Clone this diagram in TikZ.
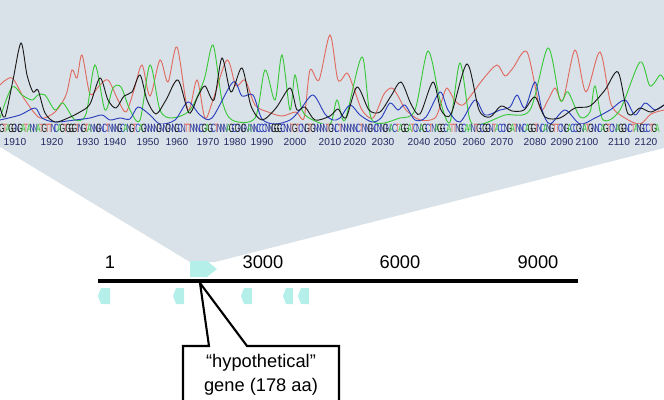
\documentclass[tikz,border=0pt]{standalone}
\usepackage{fontspec}
\setmainfont{Liberation Sans}
\usetikzlibrary{positioning}

\definecolor{panel}{RGB}{217,226,232}
\definecolor{gen}{RGB}{180,239,233}
\definecolor{colG}{RGB}{25,25,25}
\definecolor{colA}{RGB}{55,200,55}
\definecolor{colT}{RGB}{225,105,95}
\definecolor{colC}{RGB}{40,60,190}
\definecolor{colN}{RGB}{45,55,150}
\definecolor{numero}{RGB}{35,42,100}

\begin{document}
\begin{tikzpicture}[
x=0.025cm, y=-0.025cm,
every node/.style={inner sep=0pt},
escala/.style={font=\fontsize{13}{15}\selectfont, anchor=base},
letra/.style={font=\fontsize{8.5}{9}\selectfont},
num/.style={font=\fontsize{7.2}{8}\selectfont, text=numero},
traza/.style={line width=0.65pt},
gene/.style={fill=gen, draw=none},
eje/.style={line width=2.4pt},
nota/.style={align=center, font=\fontsize{13}{17}\selectfont},
borde/.style={draw=black, fill=white, line width=1.5pt}
]
\useasboundingbox (0,0) rectangle (664,400);

% CROMATOGRAMA
\fill[panel] (0,0) -- (664,0) -- (664,148) -- (215,262) -- (190,262) -- (0,147) -- cycle;

\begin{scope}
\clip (0,0) rectangle (664,124);
\draw[traza, colT] plot[smooth] coordinates {(0,85) (12,78) (25,100) (40,118) (55,112) (66,95) (72,70) (77,78) (82,55) (90,94) (99,86) (108,80) (118,100) (126,112) (134,90) (142,65) (150,96) (160,60) (168,82) (177,47) (188,110) (197,80) (205,118) (213,100) (227,60) (236,86) (245,80) (255,105) (268,112) (282,116) (296,112) (304,118) (310,70) (319,80) (330,35) (338,80) (347,73) (353,86) (362,110) (373,118) (384,94) (392,88) (398,96) (406,110) (420,120) (435,118) (442,100) (447,88) (455,101) (463,105) (472,94) (484,78) (497,65) (505,76) (513,68) (527,52) (540,108) (548,100) (555,88) (563,100) (575,50) (586,92) (600,52) (611,104) (625,118) (640,124) (651,114) (664,110)};
\draw[traza, colA] plot[smooth] coordinates {(0,118) (12,87) (22,95) (32,100) (38,95) (45,95) (55,110) (63,103) (75,120) (86,114) (95,65) (105,110) (113,88) (121,87) (130,110) (140,120) (150,65) (160,110) (172,118) (190,110) (204,80) (213,45) (222,100) (232,120) (255,118) (265,70) (275,100) (282,55) (290,110) (295,75) (302,110) (313,120) (330,124) (337,100) (345,120) (362,57) (372,120) (400,118) (415,110) (428,51) (440,100) (450,122) (460,63) (470,120) (482,124) (505,115) (530,110) (548,48) (560,100) (568,92) (580,117) (590,112) (595,86) (603,120) (620,110) (640,62) (650,86) (660,75) (664,80)};
\draw[traza, colC] plot[smooth] coordinates {(0,120) (20,115) (35,108) (42,118) (55,122) (75,120) (90,118) (102,115) (110,120) (120,118) (130,119) (138,107) (150,115) (160,124) (175,120) (188,102) (200,115) (212,118) (233,82) (242,96) (253,95) (262,119) (275,124) (290,120) (300,110) (313,95) (325,114) (333,120) (340,118) (350,105) (360,115) (372,122) (381,118) (390,103) (398,110) (405,105) (415,120) (426,117) (440,92) (448,110) (460,122) (475,100) (485,115) (500,110) (510,107) (517,95) (525,108) (535,82) (542,110) (550,124) (565,110) (580,124) (595,118) (610,110) (625,100) (635,115) (645,103) (655,110) (664,105)};
\draw[traza, colG] plot[smooth] coordinates {(0,107) (5,117) (13,80) (21,43) (27,75) (33,92) (38,90) (45,113) (55,122) (68,118) (80,112) (90,104) (100,78) (108,100) (116,108) (124,96) (132,92) (140,75) (147,100) (156,114) (166,100) (178,80) (189,113) (198,96) (205,86) (214,100) (222,58) (231,92) (242,68) (251,106) (262,120) (276,108) (290,88) (297,110) (305,107) (315,120) (330,116) (338,109) (346,118) (357,87) (369,110) (380,112) (391,96) (401,82) (411,104) (420,114) (433,82) (441,110) (451,114) (467,64) (479,110) (490,117) (501,106) (512,111) (524,110) (535,97) (545,117) (560,118) (575,108) (590,106) (605,90) (618,72) (628,114) (640,108) (651,112) (664,105)};
\end{scope}

% BASES
\foreach \b [count=\i] in {G,T,A,G,G,N,G,A,T,A, N,N,A,T,G,T,T,N,C,A, G,T,G,G,G,T,N,G,T,A, N,N,G,N,C,T,N,N,N,G,
  C,A,N,G,T,C,A,G,N,N, N,N,G,N,N,G,N,N,G,C, N,T,T,N,N,N,C,G,A,G, C,T,N,N,N,A,G,C,G,N,
  G,N,A,N,N,C,C,C,N,N, G,G,G,C,N,N,T,G,T,C, N,G,T,G,N,N,N,N,T,G, N,C,T,N,N,N,N,N,C,T,
  N,N,G,N,C,N,N,G,N,A, C,T,A,G,G,A,T,C,N,A, G,C,T,N,A,G,G,C,A,T, T,N,G,C,A,A,N,T,G,C,
  G,G,N,T,A,C,C,N,G,A, T,N,N,C,A,G,G,T,N,C, A,N,G,T,T,C,N,G,A,C, C,G,N,A,T,G,N,N,C,A,
  G,T,C,N,A,G,G,N,C,T, A,N,G,C,C,T,G,A}
  \node[letra, text=col\b] (b\i) at ({\i*3.02-1},128) {\scalebox{0.6}[1]{\b}};

% POSICIONES
\foreach \n/\x in {1910/15, 1920/52, 1930/88, 1940/115, 1950/148, 1960/177, 1970/208, 1980/235, 1990/262, 2000/295, 2010/330,
  2020/355, 2030/383, 2040/419, 2050/445, 2060/474, 2070/502, 2080/535, 2090/562, 2100/587, 2110/619, 2120/646}
  \node[num] (n\n) at (\x,142) {\n};

% GENES
\fill[gene] (190,261) -- (207,261) -- (217,269) -- (207,277) -- (190,277) -- cycle;
\foreach \a/\c in {98/110, 173/184, 241/252, 283/293, 298/309}
  \fill[gene] (\c,288) -- (\a+3,288) -- (\a,296) -- (\a+3,304) -- (\c,304) -- cycle;

% EJE
\coordinate (ini) at (98,281);
\coordinate (fin) at (578,281);
\draw[eje] (ini) -- (fin);
\node[escala] (p1) at (110,268) {1};
\node[escala] (p3000) at (263,268) {3000};
\node[escala] (p6000) at (400,268) {6000};
\node[escala] (p9000) at (538,268) {9000};

% NOTA
\coordinate (punta) at (200,283);
\draw[borde] (183,402) -- (183,346) -- (209,346) -- (punta) -- (247,346) -- (339,346) -- (339,402);
\node[nota] (hipotetico) at (261,375) {“hypothetical”\\gene (178 aa)};

\end{tikzpicture}
\end{document}
